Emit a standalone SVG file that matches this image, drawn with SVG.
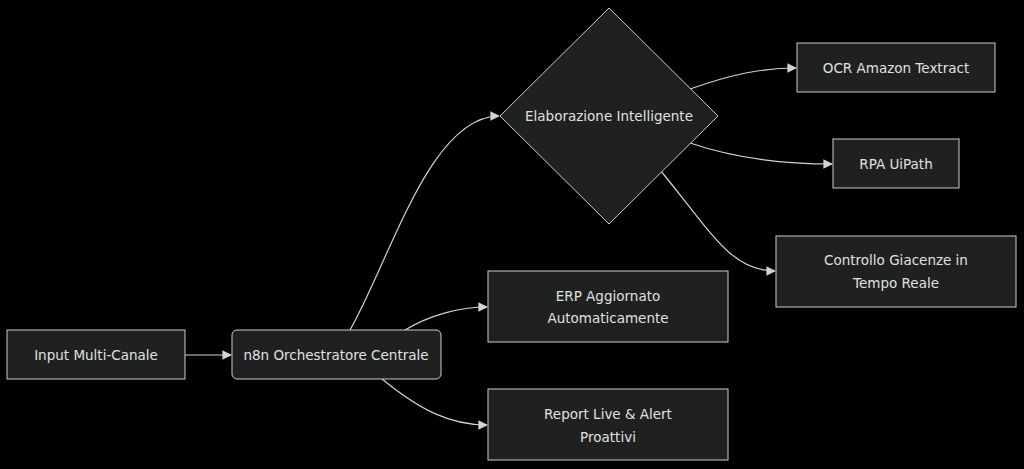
<svg xmlns="http://www.w3.org/2000/svg" width="1024" height="469" viewBox="0 0 1024 469">
<style>
.n{fill:#1f2020;stroke:#cccccc;stroke-width:1}
.t{font-family:"DejaVu Sans","Liberation Sans",sans-serif;font-size:13.5px;fill:#e0e0e0;text-anchor:middle;dominant-baseline:central}
.e{fill:none;stroke:#d3d3d3;stroke-width:1.2}
</style>
<defs><marker id="a" viewBox="0 0 10 10" refX="9" refY="5" markerWidth="8" markerHeight="8" orient="auto"><path d="M0,0L10,5L0,10z" fill="#d3d3d3"/></marker></defs>
<rect width="1024" height="469" fill="#000"/>
<g id="edges">
<path class="e" marker-end="url(#a)" d="M185,355L231,355"/>
<path class="e" marker-end="url(#a)" d="M350,330C390,260 430,116 499,116"/>
<path class="e" marker-end="url(#a)" d="M405,330C430,315 460,307 487,307"/>
<path class="e" marker-end="url(#a)" d="M382,379C420,410 450,425 487,425"/>
<path class="e" marker-end="url(#a)" d="M690,89C730,75 760,68 796,68"/>
<path class="e" marker-end="url(#a)" d="M690,143C740,160 790,164 832,164"/>
<path class="e" marker-end="url(#a)" d="M660,170C710,230 730,271 775,271"/>
</g>
<g id="input"><rect class="n" x="7" y="330" width="178" height="49"/><text class="t" x="96" y="355">Input Multi-Canale</text></g>
<g id="n8n"><rect class="n" x="232" y="330" width="209" height="49" rx="5"/><text class="t" x="336" y="355">n8n Orchestratore Centrale</text></g>
<g id="elab"><polygon class="n" points="609,8 718,116 609,224 500,116"/><text class="t" x="609" y="116">Elaborazione Intelligente</text></g>
<g id="ocr"><rect class="n" x="797" y="43" width="198" height="49"/><text class="t" x="896" y="68">OCR Amazon Textract</text></g>
<g id="rpa"><rect class="n" x="833" y="139" width="126" height="49"/><text class="t" x="896" y="164">RPA UiPath</text></g>
<g id="ctrl"><rect class="n" x="776" y="236" width="240" height="71"/><text class="t" x="896" y="260">Controllo Giacenze in</text><text class="t" x="896" y="283">Tempo Reale</text></g>
<g id="erp"><rect class="n" x="488" y="271" width="240" height="71"/><text class="t" x="608" y="296">ERP Aggiornato</text><text class="t" x="608" y="318">Automaticamente</text></g>
<g id="report"><rect class="n" x="488" y="389" width="240" height="71"/><text class="t" x="608" y="414">Report Live &amp; Alert</text><text class="t" x="608" y="437">Proattivi</text></g>
</svg>
